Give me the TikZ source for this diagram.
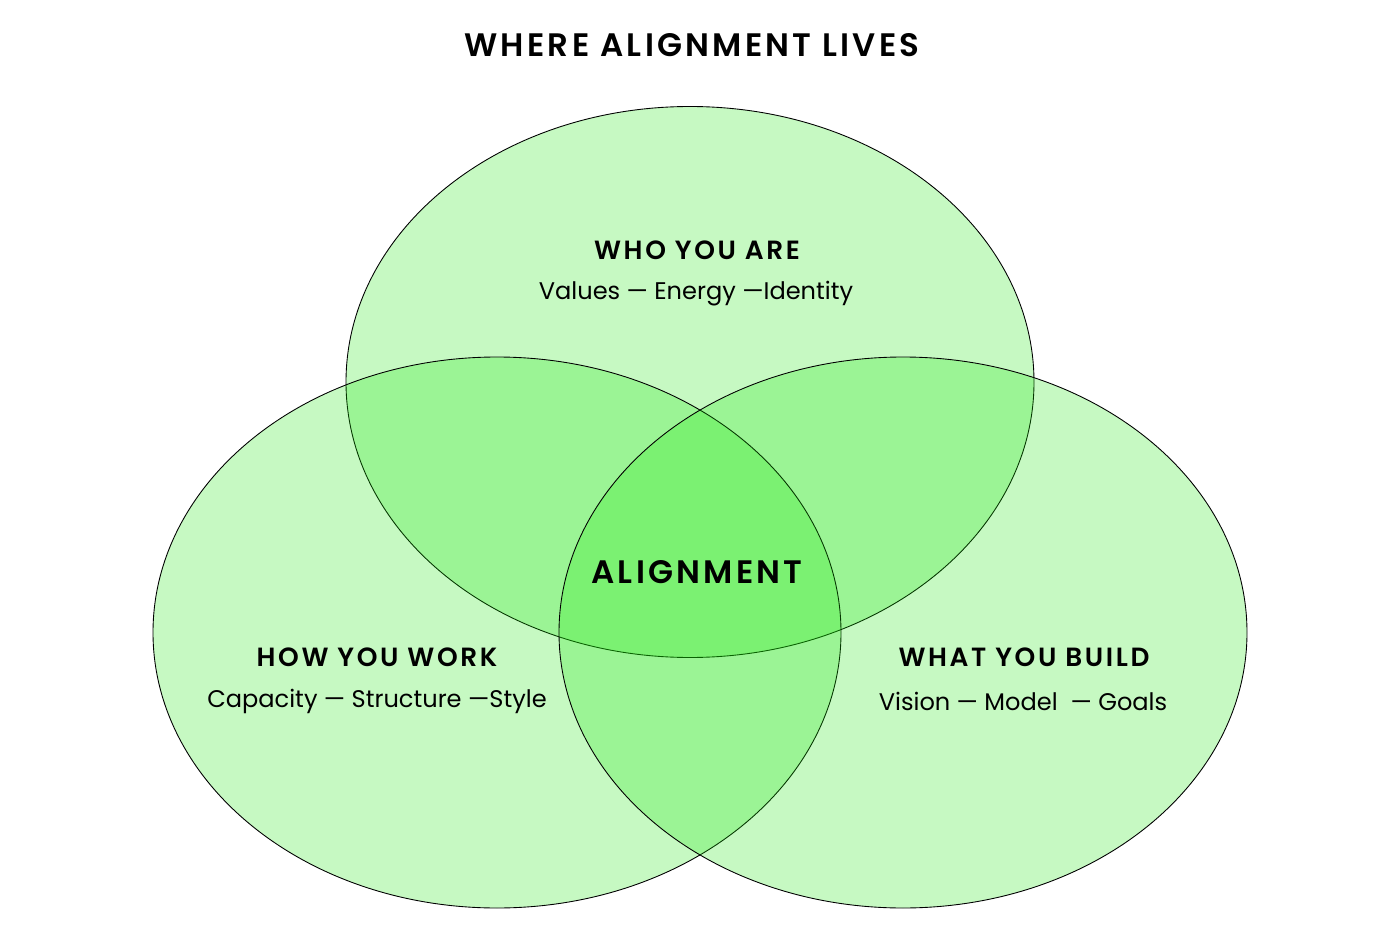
\documentclass[tikz,border=0pt]{standalone}
\usepackage{fontspec}
\setmainfont{Poppins}
\newfontfamily\capsfont[LetterSpace=10, BoldFont={Poppins SemiBold}]{Poppins}
\definecolor{setgreen}{RGB}{22,230,6}
\begin{document}
\begin{tikzpicture}[x=0.02cm, y=-0.02cm, every node/.style={font=\normalsize, inner sep=0pt}]
    \tikzset{
        vset/.style={draw=black, line width=0.5pt, fill=setgreen, fill opacity=0.245},
        head/.style={font=\capsfont\bfseries\fontsize{15}{17}\selectfont},
        items/.style={font=\fontsize{13.7}{16}\selectfont}
    }
    \useasboundingbox (0,0) rectangle (1400,929);

    % Tiêu đề
    \node (title) at (692,45) {\capsfont\bfseries\fontsize{18.5}{21}\selectfont WHERE ALIGNMENT LIVES};

    % Ba tập hợp
    \draw[vset] (690,382) ellipse (344 and 275.5);
    \draw[vset] (497,632.5) ellipse (344 and 275.5);
    \draw[vset] (903,632.5) ellipse (344 and 275.5);

    % Tập hợp trên
    \node[head] (whohead) at (697,250) {WHO YOU ARE};
    \node[items] (whoitems) at (696,294) {Values — Energy —Identity};

    % Tập hợp trái
    \node[head] (howhead) at (377,657) {HOW YOU WORK};
    \node[items] (howitems) at (377,701) {Capacity — Structure —Style};

    % Tập hợp phải
    \node[head] (whathead) at (1024,657) {WHAT YOU BUILD};
    \node[items] (whatitems) at (1023,701) {Vision — Model \ — Goals};

    % Giao của ba tập hợp
    \node (core) at (697,572) {\capsfont\bfseries\fontsize{18.5}{22}\selectfont ALIGNMENT};
\end{tikzpicture}
\end{document}
